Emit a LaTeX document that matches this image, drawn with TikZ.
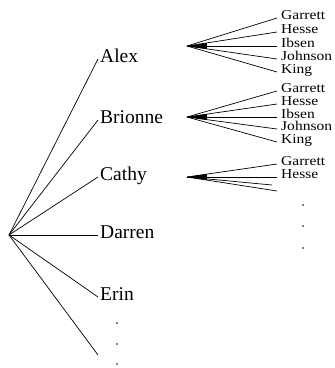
\documentclass[tikz,border=0pt]{standalone}
\usepackage{fontspec}
\setmainfont{Liberation Serif}
\newfontfamily\leaffont[FakeStretch=1.15]{Liberation Serif}
\usetikzlibrary{positioning}

\begin{document}
\begin{tikzpicture}[x=1pt, y=-1pt,
  kid/.style={anchor=base west, inner sep=0pt, inner xsep=2pt, font=\fontsize{19.5}{20}\selectfont},
  leaf/.style={anchor=base west, inner sep=0pt, inner xsep=4pt, font=\leaffont\fontsize{13.5}{13.5}\selectfont},
  branch/.style={line width=0.7pt},
  wedge/.style={fill=black},
]
\useasboundingbox (0,0) rectangle (335,368);

% LEFT TREE
\coordinate (root) at (9,235);
\node[kid] (alex) at (98,62) {Alex};
\node[kid] (brionne) at (98,123) {Brionne};
\node[kid] (cathy) at (98,180) {Cathy};
\node[kid] (darren) at (98,238) {Darren};
\node[kid] (erin) at (98,300) {Erin};
\coordinate (more) at (98,355);

\draw[branch] (root) -- ([yshift=3pt]alex.base west);
\draw[branch] (root) -- ([yshift=3pt]brionne.base west);
\draw[branch] (root) -- ([yshift=3pt]cathy.base west);
\draw[branch] (root) -- ([yshift=3pt]darren.base west);
\draw[branch] (root) -- ([yshift=3pt]erin.base west);
\draw[branch] (root) -- (more);

\fill (117,323) circle (0.9pt);
\fill (117,344) circle (0.9pt);
\fill (117,364) circle (0.9pt);

% FAN 1
\coordinate (fa) at (187,46);
\node[leaf] (ga) at (277,19) {Garrett};
\node[leaf] (ha) at (277,33) {Hesse};
\node[leaf] (ia) at (277,47) {Ibsen};
\node[leaf] (ja) at (277,60) {Johnson};
\node[leaf] (ka) at (277,73) {King};
\fill[wedge] (fa) -- ++(20,-3) -- ++(0,6) -- cycle;
\draw[branch] (fa) -- ([yshift=1pt]ga.base west);
\draw[branch] (fa) -- ([yshift=1pt]ha.base west);
\draw[branch] (fa) -- ([yshift=1pt]ia.base west);
\draw[branch] (fa) -- ([yshift=1pt]ja.base west);
\draw[branch] (fa) -- ([yshift=1pt]ka.base west);

% FAN 2
\coordinate (fb) at (187,117);
\node[leaf] (gb) at (277,92) {Garrett};
\node[leaf] (hb) at (277,105) {Hesse};
\node[leaf] (ib) at (277,118) {Ibsen};
\node[leaf] (jb) at (277,130) {Johnson};
\node[leaf] (kb) at (277,143) {King};
\fill[wedge] (fb) -- ++(20,-3) -- ++(0,6) -- cycle;
\draw[branch] (fb) -- ([yshift=1pt]gb.base west);
\draw[branch] (fb) -- ([yshift=1pt]hb.base west);
\draw[branch] (fb) -- ([yshift=1pt]ib.base west);
\draw[branch] (fb) -- ([yshift=1pt]jb.base west);
\draw[branch] (fb) -- ([yshift=1pt]kb.base west);

% FAN 3
\coordinate (fc) at (187,177);
\node[leaf] (gc) at (277,165) {Garrett};
\node[leaf] (hc) at (277,178) {Hesse};
\coordinate (ic) at (272,185);
\coordinate (jc) at (277,191);
\fill[wedge] (fc) -- ++(20,-3) -- ++(0,6) -- cycle;
\draw[branch] (fc) -- ([yshift=1pt]gc.base west);
\draw[branch] (fc) -- ([yshift=1pt]hc.base west);
\draw[branch] (fc) -- (ic);
\draw[branch] (fc) -- (jc);

\fill (303,205) circle (0.9pt);
\fill (303,226) circle (0.9pt);
\fill (303,248) circle (0.9pt);
\end{tikzpicture}
\end{document}
